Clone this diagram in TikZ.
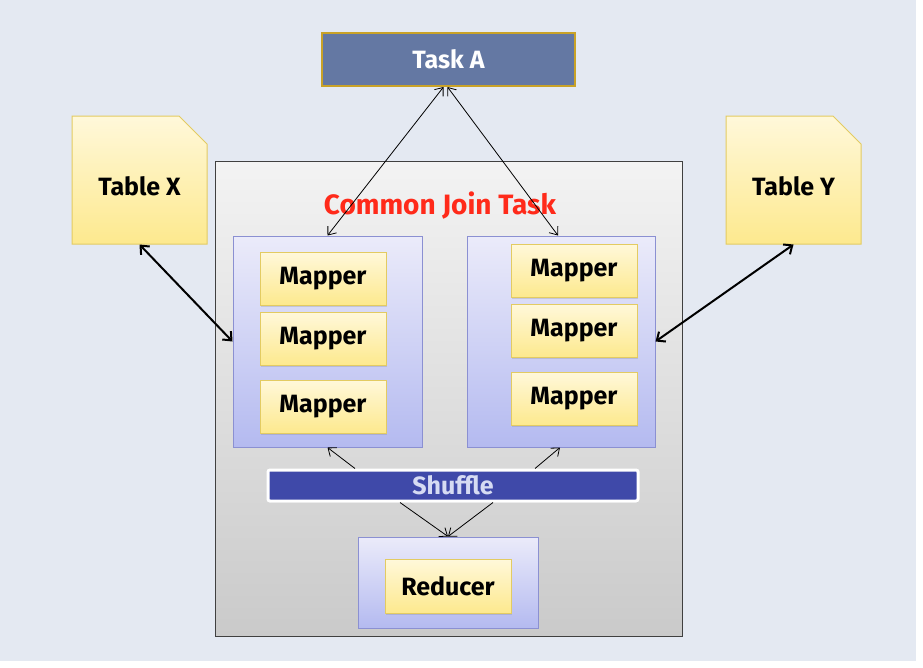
\documentclass[tikz,border=0pt]{standalone}
\usepackage{fontspec}
\setmainfont{Fira Sans}
\usetikzlibrary{arrows.meta,shapes.misc,shadows}

\definecolor{bgblue}{HTML}{E4E9F2}
\definecolor{taskfill}{HTML}{6478A3}
\definecolor{taskline}{HTML}{C9A227}
\definecolor{noteline}{HTML}{E3CB62}
\definecolor{notetop}{HTML}{FFF8DA}
\definecolor{notebot}{HTML}{FDE98E}
\definecolor{grptop}{HTML}{EBEBFA}
\definecolor{grpbot}{HTML}{B4BAF0}
\definecolor{grpline}{HTML}{8B90D2}
\definecolor{shufill}{HTML}{3F49A9}
\definecolor{shutext}{HTML}{D6DBF3}
\definecolor{jointop}{HTML}{F3F3F3}
\definecolor{joinbot}{HTML}{CACACA}
\definecolor{titlered}{HTML}{FF2A1A}

% text lowered inside its node by adding room above it
\newcommand{\lowtext}[1]{\raisebox{0pt}[\dimexpr\height+12pt\relax][\depth]{#1}}

\tikzset{
  lbl/.style={font=\fontsize{25}{27}\selectfont\bfseries},
  taskbox/.style={lbl, draw=taskline, line width=2pt, fill=taskfill, text=white,
    minimum width=253pt, minimum height=53pt, inner sep=0pt},
  notebox/.style={lbl, chamfered rectangle, chamfered rectangle corners=north east,
    chamfered rectangle xsep=14pt, chamfered rectangle ysep=14pt,
    draw=noteline, line width=1pt, top color=notetop, bottom color=notebot,
    minimum width=135pt, minimum height=128pt, inner sep=0pt},
  joinbox/.style={draw=black!75, line width=1pt, top color=jointop, bottom color=joinbot,
    minimum width=467pt, minimum height=475pt, inner sep=0pt},
  grpbox/.style={draw=grpline, line width=1pt, top color=grptop, bottom color=grpbot,
    minimum height=211pt, inner sep=0pt},
  mapbox/.style={lbl, draw=noteline, line width=1pt, top color=notetop, bottom color=notebot,
    drop shadow={opacity=0.25, shadow xshift=1pt, shadow yshift=-1.5pt},
    minimum width=126pt, minimum height=53pt, inner sep=0pt},
  shubox/.style={lbl, draw=white, line width=3pt, fill=shufill, text=shutext,
    rounded corners=2pt, drop shadow={opacity=0.2, shadow xshift=1pt, shadow yshift=-1.5pt},
    minimum width=370pt, minimum height=31pt, inner sep=0pt},
  thin/.style={line width=0.8pt, -{Straight Barb[length=7pt,width=11pt]}},
  thinboth/.style={line width=0.8pt, {Straight Barb[length=7pt,width=11pt]}-{Straight Barb[length=7pt,width=11pt]}},
  thickboth/.style={line width=2pt, {Straight Barb[length=7pt,width=12pt]}-{Straight Barb[length=7pt,width=12pt]}}
}

\begin{document}
\begin{tikzpicture}[x=1pt,y=-1pt]
  \fill[white] (0,0) rectangle (923,667);
  \fill[bgblue] (0,0) rectangle (916,661);
  \useasboundingbox (0,0) rectangle (923,667);

  % outer task and tables
  \node[taskbox] (taskA) at (448.5,59.5) {Task A};
  \node[notebox] (tabX) at (139.5,180) {\lowtext{Table X}};
  \node[notebox] (tabY) at (793.5,180) {\lowtext{Table Y}};

  % common join task
  \node[joinbox] (join) at (448.5,398.5) {};
  \node[lbl, font=\fontsize{28}{30}\selectfont\bfseries, text=titlered] (jtitle) at (440,206) {Common Join Task};

  \node[grpbox, minimum width=189pt] (grpL) at (327.5,341.5) {};
  \node[grpbox, minimum width=188pt] (grpR) at (561,341.5) {};
  \node[mapbox] (mapL-1) at (323,278.5) {Mapper};
  \node[mapbox] (mapL-2) at (323,338.5) {Mapper};
  \node[mapbox] (mapL-3) at (323,406.5) {Mapper};
  \node[mapbox] (mapR-1) at (574,270.5) {Mapper};
  \node[mapbox] (mapR-2) at (574,330.5) {Mapper};
  \node[mapbox] (mapR-3) at (574,398.5) {Mapper};

  \node[shubox] (shuffle) at (453,485.5) {Shuffle};

  \node[grpbox, minimum width=180pt, minimum height=91pt] (grpD) at (448,582.5) {};
  \node[mapbox, minimum height=54pt] (reducer) at (448,586) {Reducer};

  % connectors
  \draw[thinboth] ([xshift=-5]taskA.south) -- (grpL.north);
  \draw[thinboth] ([xshift=-1]taskA.south) -- ([xshift=-3]grpR.north);
  \draw[thickboth] (tabX.south) -- (grpL.west);
  \draw[thickboth] (tabY.south) -- (grpR.east);
  \draw[thin] ([xshift=-98]shuffle.north) -- (grpL.south);
  \draw[thin] ([xshift=82]shuffle.north) -- ([xshift=-1]grpR.south);
  \draw[thin] ([xshift=-53]shuffle.south) -- (grpD.north);
  \draw[thin] ([xshift=40]shuffle.south) -- (grpD.north);
\end{tikzpicture}
\end{document}
